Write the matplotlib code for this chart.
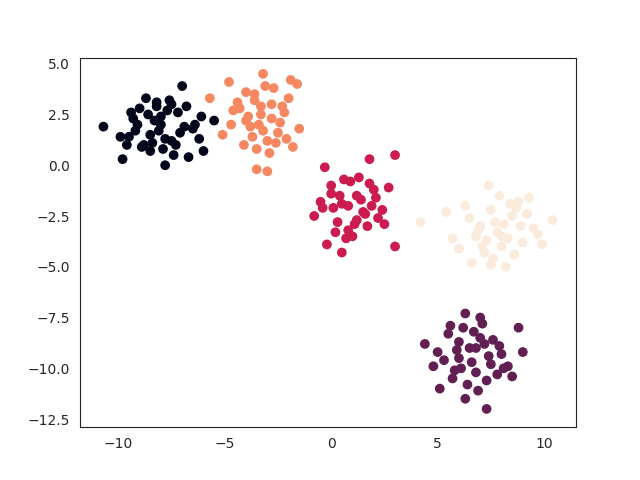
import matplotlib.pyplot as plt
import seaborn as sns

sns.set_style("white")

# cluster 0 (black)
x0 = [-10.7, -9.8, -7.0, -5.5, -6.0, -7.8, -9.0, -8.5, -8.0, -7.5, -8.8, -9.3, -7.2, -6.5, -8.2,
      -7.9, -8.6, -9.5, -7.4, -6.8, -8.1, -8.9, -7.6, -6.2, -9.1, -8.4, -7.1, -6.7, -8.3, -9.6,
      -7.7, -8.7, -6.4, -7.3, -9.2, -8.0, -6.9, -7.8, -8.5, -9.9, -6.1, -7.5, -8.2, -9.4]
y0 = [1.9, 0.3, 3.9, 2.2, 0.7, 0.0, 2.8, 1.5, 2.0, 1.2, 1.0, 2.3, 2.6, 1.8, 3.1,
      0.8, 2.5, 1.4, 0.5, 2.9, 1.7, 0.9, 3.2, 1.3, 2.0, 1.1, 1.6, 0.4, 2.2, 1.0,
      2.7, 3.3, 2.0, 1.0, 1.7, 2.4, 1.9, 1.3, 0.7, 1.4, 2.4, 3.0, 2.9, 2.6]
# cluster 1 (purple)
x1 = [6.3, 5.1, 7.3, 9.0, 4.4, 8.8, 5.7, 6.5, 7.0, 6.0, 7.5, 6.8, 5.5, 8.0, 6.2,
      7.8, 6.6, 5.9, 7.2, 6.9, 8.3, 5.3, 6.4, 7.6, 7.1, 6.1, 5.0, 8.5, 6.7, 7.4,
      5.6, 6.3, 7.9, 4.8, 6.0, 7.3, 6.8, 5.8, 8.1, 7.0]
y1 = [-7.3, -11.0, -12.0, -9.2, -8.8, -8.0, -10.5, -9.0, -8.5, -9.5, -9.8, -10.2, -8.3, -9.3, -8.0,
      -10.3, -9.7, -9.1, -8.8, -11.1, -9.9, -9.6, -10.8, -8.6, -7.8, -10.0, -9.2, -10.4, -8.2, -9.4,
      -7.9, -11.5, -8.9, -9.9, -8.7, -10.6, -9.0, -10.1, -10.0, -7.5]
# cluster 2 (red)
x2 = [3.0, 3.0, 1.8, 0.5, -0.3, -0.8, 0.8, 1.2, 0.3, 1.5, 0.0, 2.0, 1.0, 0.6, 2.4,
      -0.5, 1.7, 0.9, 0.2, 2.2, 1.4, 0.4, 1.1, -0.2, 2.7, 0.7, 1.9, 0.1, 1.3, 2.5,
      0.0, 1.6, 0.8, -0.4, 2.1, 1.2, 0.5, 1.8]
y2 = [0.5, -4.0, 0.3, -4.3, -0.1, -2.5, -2.0, -1.5, -2.8, -2.3, -1.0, -1.2, -3.5, -0.7, -2.2,
      -1.8, -3.0, -0.8, -3.3, -2.6, -1.7, -1.5, -2.9, -3.9, -1.1, -3.6, -2.0, -2.1, -0.6, -2.9,
      -1.4, -2.4, -3.2, -2.1, -1.6, -2.7, -1.9, -0.9]
# cluster 3 (orange)
x3 = [-5.7, -3.2, -1.9, -3.0, -3.5, -5.1, -1.5, -3.3, -2.8, -4.0, -3.6, -2.5, -4.3, -3.0, -2.2,
      -3.8, -4.6, -2.7, -3.4, -4.1, -2.0, -3.1, -4.8, -2.4, -3.7, -2.9, -4.4, -3.3, -2.6, -3.9,
      -1.8, -4.0, -3.5, -2.3, -3.2, -4.7, -2.8, -1.6, -3.6, -2.1]
y3 = [3.3, 4.5, 4.2, -0.3, -0.2, 1.5, 1.8, 2.5, 3.0, 2.2, 3.5, 1.6, 2.8, 1.2, 2.6,
      1.9, 2.7, 3.8, 2.0, 1.0, 3.3, 3.9, 4.1, 2.1, 1.4, 0.6, 3.1, 2.9, 1.1, 2.4,
      0.9, 3.6, 0.8, 2.9, 1.7, 2.0, 2.3, 4.0, 3.2, 1.3]
# cluster 4 (cream)
x4 = [4.2, 5.7, 7.4, 10.4, 6.0, 8.2, 7.8, 8.5, 7.0, 9.0, 8.0, 7.5, 6.5, 9.5, 8.8,
      7.2, 8.3, 6.8, 9.2, 7.6, 8.6, 6.3, 7.9, 8.1, 9.7, 7.3, 6.6, 8.9, 7.7, 8.4,
      5.4, 9.9, 7.1, 8.7, 6.9, 8.0, 7.5, 9.3]
y4 = [-2.8, -3.6, -1.0, -2.7, -4.1, -5.0, -3.3, -2.5, -3.0, -3.8, -4.0, -2.2, -2.6, -3.1, -1.8,
      -4.3, -3.6, -3.5, -2.4, -4.6, -4.4, -2.0, -1.5, -2.9, -3.4, -3.7, -4.8, -3.0, -2.8, -1.9,
      -2.3, -3.9, -4.0, -2.1, -3.2, -3.5, -4.9, -1.6]

xs = [x0, x1, x2, x3, x4]
ys = [y0, y1, y2, y3, y4]

fig, ax = plt.subplots(figsize=(6.4, 4.8), dpi=100)
all_x, all_y, labels = [], [], []
for k, (xx, yy) in enumerate(zip(xs, ys)):
    all_x += xx
    all_y += yy
    labels += [k] * len(xx)
ax.scatter(all_x, all_y, c=labels, cmap="rocket")
ax.set_xlim(-11.8, 11.5)
ax.set_ylim(-12.9, 5.3)
ax.set_xticks([-10, -5, 0, 5, 10])
ax.set_yticks([-12.5, -10, -7.5, -5, -2.5, 0, 2.5, 5])
for s in ax.spines.values():
    s.set_edgecolor("#222222")
fig.savefig("out.png")
